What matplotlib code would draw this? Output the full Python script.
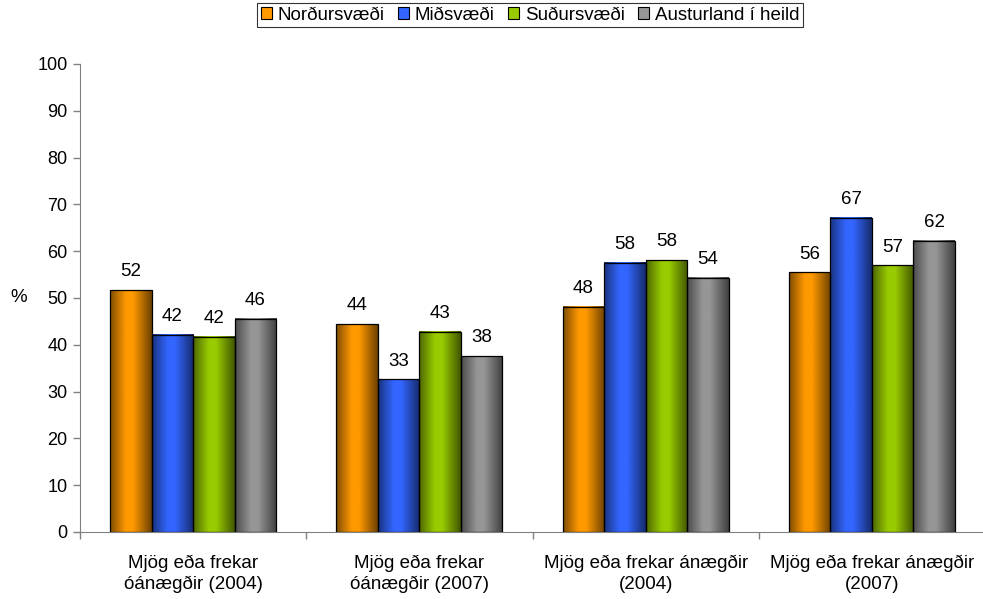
import numpy as np
import matplotlib
matplotlib.use("Agg")
import matplotlib.pyplot as plt
from matplotlib.colors import LinearSegmentedColormap, to_rgb
from matplotlib.patches import Patch

plt.rcParams['font.family'] = ['Liberation Sans', 'DejaVu Sans']

categories = ["Mjög eða frekar\nóánægðir (2004)", "Mjög eða frekar\nóánægðir (2007)",
              "Mjög eða frekar ánægðir\n(2004)", "Mjög eða frekar ánægðir\n(2007)"]
series_names = ["Norðursvæði", "Miðsvæði", "Suðursvæði", "Austurland í heild"]
nordur = [51.7, 44.4, 48.1, 55.5]
midsv = [42.2, 32.6, 57.5, 67.2]
sudur = [41.7, 42.8, 58.1, 57.0]
austurland = [45.6, 37.6, 54.3, 62.2]
values = [nordur, midsv, sudur, austurland]
colors = ["#FF9900", "#3366FF", "#99CC00", "#969696"]

fig = plt.figure(figsize=(9.83, 5.99), dpi=100)
ax = fig.add_axes([80/983, 1-532/599, 905/983, (532-64)/599])

fs = 13.5
bw = 0.1834
x = np.arange(len(categories))
offsets = (np.arange(4) - 1.5) * bw

def grad_cmap(c):
    r = np.array(to_rgb(c))
    dark_l = r * 0.5
    dark_r = r * 0.42
    return LinearSegmentedColormap.from_list("g", [(0, dark_l), (0.38, r), (0.55, r), (1, dark_r)])

grad = np.linspace(0, 1, 256).reshape(1, -1)
for i, (vals, col) in enumerate(zip(values, colors)):
    bars = ax.bar(x + offsets[i], vals, bw, facecolor='none', edgecolor='black', linewidth=0.9, zorder=3)
    cm = grad_cmap(col)
    for b, v in zip(bars, vals):
        x0 = b.get_x(); x1 = x0 + b.get_width(); h = b.get_height()
        ax.imshow(grad, extent=[x0, x1, 0, h], aspect='auto', cmap=cm, zorder=2, interpolation='bilinear')
        ax.annotate(f"{v:.0f}", (b.get_x() + b.get_width()/2, h), xytext=(0, 7),
                    textcoords='offset points', ha='center', va='bottom', fontsize=fs)

ax.set_xlim(-0.5, 3.5)
ax.set_ylim(0, 100)
ax.set_yticks(np.arange(0, 101, 10))
ax.set_xticks(x)
ax.set_xticklabels(categories, fontsize=fs, linespacing=1.27)
ax.set_xticks(np.arange(-0.5, 4, 1), minor=True)
ax.tick_params(axis='x', which='major', length=0, pad=16.5)
ax.tick_params(axis='x', which='minor', length=5, color='#808080', width=1)
ax.tick_params(axis='y', length=5, color='#808080', width=1, labelsize=13, pad=4)
for s in ['top', 'right']:
    ax.spines[s].set_visible(False)
for s in ['left', 'bottom']:
    ax.spines[s].set_color('#808080')
ax.set_ylabel('%', rotation=0, fontsize=fs, va='center')
ax.yaxis.set_label_coords(-61/905, 0.5)

handles = [Patch(facecolor=c, edgecolor='black', linewidth=0.8) for c in colors]
leg = fig.legend(handles, series_names, loc='upper center', bbox_to_anchor=(530/983, 0.995),
                 ncol=4, fontsize=fs, frameon=True, fancybox=False, edgecolor='black',
                 handlelength=0.6, handleheight=0.6, handletextpad=0.3, columnspacing=0.7,
                 borderpad=0.2, borderaxespad=0)
leg.get_frame().set_linewidth(0.8)

fig.savefig("out.png", dpi=100)
